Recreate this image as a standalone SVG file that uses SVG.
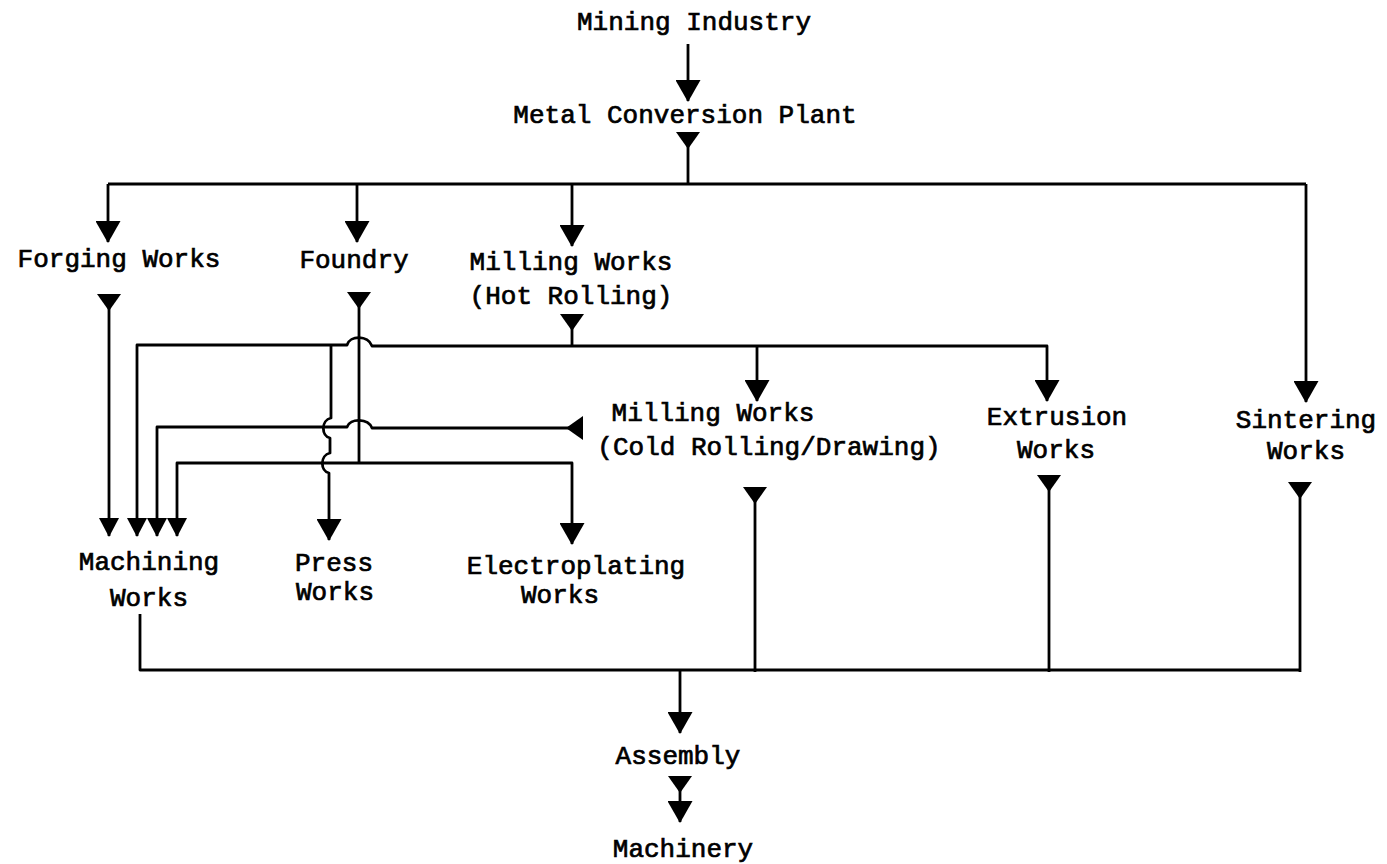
<svg xmlns="http://www.w3.org/2000/svg" width="1387" height="864" viewBox="0 0 1387 864">
<style>
text{font-family:"Liberation Mono","Courier New",monospace;font-size:26px;fill:#000;stroke:#000;stroke-width:0.7;text-anchor:middle}
.c{fill:none;stroke:#000;stroke-width:2.8;stroke-linejoin:round}
</style>
<defs>
<marker id="arrow" markerUnits="userSpaceOnUse" viewBox="0 0 22 25" refX="21" refY="12.5" markerWidth="22" markerHeight="25" orient="auto"><path d="M0,0 L22,12.5 L0,25 Z" fill="#000"/></marker>
<marker id="arrowS" markerUnits="userSpaceOnUse" viewBox="0 0 19 20" refX="18" refY="10" markerWidth="19" markerHeight="20" orient="auto"><path d="M0,0 L19,10 L0,20 Z" fill="#000"/></marker>
<marker id="tail" markerUnits="userSpaceOnUse" viewBox="0 0 17 24" refX="0" refY="12" markerWidth="17" markerHeight="24" orient="auto"><path d="M0,0 L17,12 L0,24 Z" fill="#000"/></marker>
</defs>
<rect width="1387" height="864" fill="#fff"/>
<g id="connectors">
<path class="c" d="M688,44 V101" marker-end="url(#arrow)"/>
<path class="c" d="M688,132 V184" marker-start="url(#tail)"/>
<path class="c" d="M108,184 H1306"/>
<path class="c" d="M108,184 V242" marker-end="url(#arrow)"/>
<path class="c" d="M357,184 V242" marker-end="url(#arrow)"/>
<path class="c" d="M572,184 V246" marker-end="url(#arrow)"/>
<path class="c" d="M1306,184 V402" marker-end="url(#arrow)"/>
<path class="c" d="M109,294 V536" marker-start="url(#tail)" marker-end="url(#arrowS)"/>
<path class="c" d="M359,292 V463" marker-start="url(#tail)"/>
<path class="c" d="M572,314 V346" marker-start="url(#tail)"/>
<path class="c" d="M572,346 H372 C368,335 350,335 347,345 H137 V536" marker-end="url(#arrowS)"/>
<path class="c" d="M572,346 H1047 V401" marker-end="url(#arrow)"/>
<path class="c" d="M757,346 V401" marker-end="url(#arrow)"/>
<path class="c" d="M583,428 H372 C368,418 350,418 347,427 H157 V536" marker-start="url(#tail)" marker-end="url(#arrowS)"/>
<path class="c" d="M359,463 H177 V536" marker-end="url(#arrowS)"/>
<path class="c" d="M359,463 H572 V544" marker-end="url(#arrow)"/>
<path class="c" d="M331,346 V418 C321,420 321,436 330,438 V453 C320,455 320,471 329,473 V540" marker-end="url(#arrow)"/>
<path class="c" d="M755,487 V672" marker-start="url(#tail)"/>
<path class="c" d="M1049,475 V672" marker-start="url(#tail)"/>
<path class="c" d="M1300,482 V672" marker-start="url(#tail)"/>
<path class="c" d="M140,614 V670 H1300"/>
<path class="c" d="M680,671 V733" marker-end="url(#arrow)"/>
<path class="c" d="M680,776 V822" marker-start="url(#tail)" marker-end="url(#arrow)"/>
</g>
<g id="n-mining"><text x="694" y="30">Mining Industry</text></g>
<g id="n-metal"><text x="685" y="123">Metal Conversion Plant</text></g>
<g id="n-forging"><text x="119" y="267">Forging Works</text></g>
<g id="n-foundry"><text x="354" y="268">Foundry</text></g>
<g id="n-hot"><text x="571" y="270">Milling Works</text><text x="571" y="304">(Hot Rolling)</text></g>
<g id="n-cold"><text x="713" y="421">Milling Works</text><text x="769" y="455">(Cold Rolling/Drawing)</text></g>
<g id="n-extrusion"><text x="1057" y="425">Extrusion</text><text x="1056" y="458">Works</text></g>
<g id="n-sintering"><text x="1306" y="428">Sintering</text><text x="1306" y="459">Works</text></g>
<g id="n-machining"><text x="149" y="570">Machining</text><text x="149" y="606">Works</text></g>
<g id="n-press"><text x="334" y="571">Press</text><text x="335" y="600">Works</text></g>
<g id="n-electro"><text x="576" y="574">Electroplating</text><text x="560" y="603">Works</text></g>
<g id="n-assembly"><text x="678" y="764">Assembly</text></g>
<g id="n-machinery"><text x="683" y="857">Machinery</text></g>
</svg>
